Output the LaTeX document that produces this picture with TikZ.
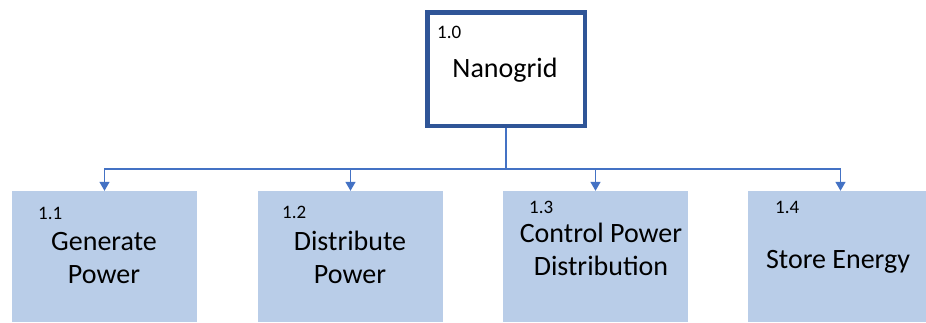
\documentclass[tikz,border=0pt]{standalone}
\usepackage{fontspec}
\setmainfont{Carlito}
\usetikzlibrary{arrows.meta}
\definecolor{boxfill}{HTML}{B9CDE8}
\definecolor{linec}{HTML}{4472C4}
\definecolor{topc}{HTML}{2F5597}
\begin{document}
\begin{tikzpicture}[x=1pt,y=-1pt,
  topbox/.style={draw=topc,line width=4.5pt,fill=white,minimum width=157.5pt,minimum height=113.5pt,inner sep=0pt},
  subbox/.style={fill=boxfill,minimum width=185pt,minimum height=131pt,inner sep=0pt},
  numtxt/.style={anchor=base west,inner sep=0pt,font=\fontsize{19}{21}\selectfont},
  bigtxt/.style={anchor=base,inner sep=0pt,font=\fontsize{28}{32}\selectfont},
  conn/.style={draw=linec,line width=1.4pt},
  arr/.style={conn,-{Triangle[width=10pt,length=9pt]}}]
\clip (0,0) rectangle (926,322);
\useasboundingbox (0,0) rectangle (926,322);
\fill[white] (0,0) rectangle (926,322);
\node[topbox] (top) at (506,69) {};
\node[subbox] (b1) at (104.5,256.5) {};
\node[subbox] (b2) at (350.5,256.5) {};
\node[subbox] (b3) at (595.5,256.5) {};
\node[subbox] (b4) at (840.5,256.5) {};
\node[numtxt] (t0) at (437,38) {1.0};
\node[bigtxt] (n0) at (505,77) {Nanogrid};
\node[numtxt] (t1) at (38,219) {1.1};
\node[bigtxt] (n1a) at (104,250) {Generate};
\node[bigtxt] (n1b) at (104,283) {Power};
\node[numtxt] (t2) at (282,218) {1.2};
\node[bigtxt] (n2a) at (350,250) {Distribute};
\node[bigtxt] (n2b) at (350,283) {Power};
\node[numtxt] (t3) at (529,213) {1.3};
\node[bigtxt] (n3a) at (601,242) {Control Power};
\node[bigtxt] (n3b) at (601,275) {Distribution};
\node[numtxt] (t4) at (775,213) {1.4};
\node[bigtxt] (n4) at (838,268) {Store Energy};
\coordinate (j) at (506,169);
\draw[conn] (top.south) -- (j);
\draw[arr] (j) -| (b1.north);
\draw[arr] (j) -| (b2.north);
\draw[arr] (j) -| (b3.north);
\draw[arr] (j) -| (b4.north);
\end{tikzpicture}
\end{document}
